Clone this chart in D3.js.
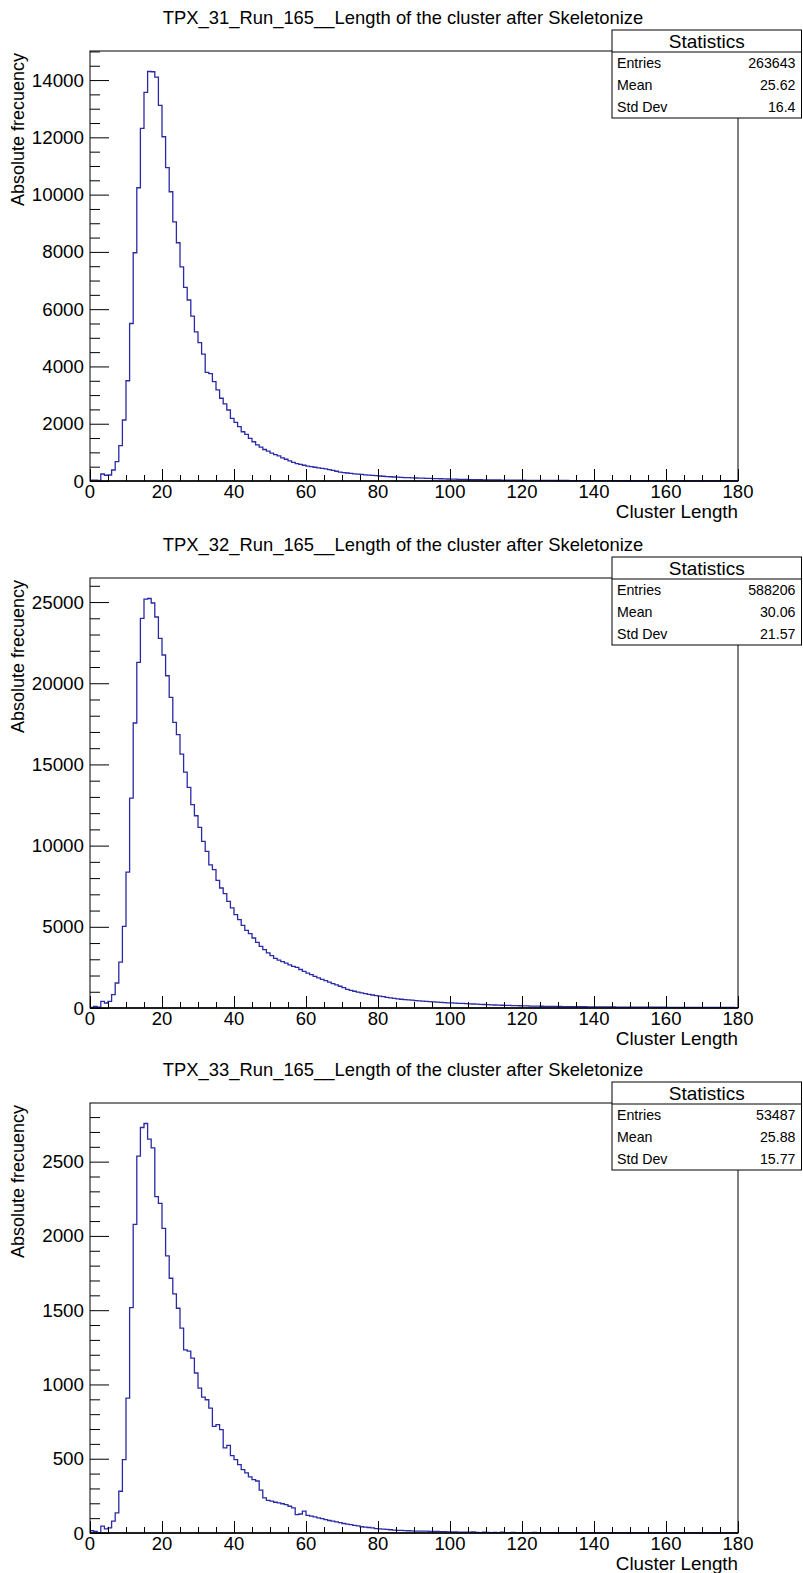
<!DOCTYPE html>
<html>
<head>
<meta charset="utf-8">
<script src="https://cdn.jsdelivr.net/npm/d3@7"></script>
<style>
  html, body { margin: 0; padding: 0; background: #fff; }
  svg { display: block; }
  text { font-family: "Liberation Sans", Arial, Helvetica, sans-serif; fill: #000; }
</style>
</head>
<body>
<script>
// ---------- DATA ----------
const titles = [
  "TPX_31_Run_165__Length of the cluster after Skeletonize",
  "TPX_32_Run_165__Length of the cluster after Skeletonize",
  "TPX_33_Run_165__Length of the cluster after Skeletonize"
];
const xLabel = "Cluster Length";
const yLabel = "Absolute frecuency";
const xTicks = [0, 20, 40, 60, 80, 100, 120, 140, 160, 180];
const yTicks31 = [0, 2000, 4000, 6000, 8000, 10000, 12000, 14000];
const yTicks32 = [0, 5000, 10000, 15000, 20000, 25000];
const yTicks33 = [0, 500, 1000, 1500, 2000, 2500];
const statLabels = ["Entries", "Mean", "Std Dev"];
const stats31 = ["263643", "25.62", "16.4"];
const stats32 = ["588206", "30.06", "21.57"];
const stats33 = ["53487", "25.88", "15.77"];

// bin contents, bins of width 1 from 0 to 180
const lengths31 = [
  30,30,20,245,200,210,384,675,1233,2130,
  3500,5500,7970,10240,12310,13570,14300,14290,14100,13115,
  12020,10940,10100,9050,8320,7480,6760,6320,5760,5210,
  4830,4430,3790,3750,3470,3180,2890,2690,2480,2190,
  2050,1900,1720,1630,1490,1370,1260,1180,1100,1040,
  970,920,880,810,760,700,650,610,580,550,
  520,500,480,460,440,420,400,370,340,310,
  290,280,265,250,240,230,215,205,195,185,
  175,165,155,148,140,133,125,120,115,110,
  105,100,97,94,90,86,82,78,74,70,
  66,63,60,57,54,51,49,46,44,42,
  40,38,36,35,33,32,30,29,28,27,
  26,25,24,23,22,21,21,20,19,18,
  18,17,17,16,15,15,14,14,13,13,
  12,12,12,11,11,10,10,10,9,9,
  9,8,8,8,8,7,7,7,7,6,
  6,6,6,6,5,5,5,5,5,5,
  4,4,4,4,4,4,4,3,3,3
];
const lengths32 = [
  30,100,60,406,308,406,818,1540,2830,5025,
  8370,12930,17550,21280,23990,25180,25220,24940,24080,22760,
  21740,20460,19130,17590,16830,15640,14530,13590,12520,11840,
  11120,10260,9640,8820,8520,7860,7390,7040,6570,6160,
  5750,5440,5090,4780,4580,4310,4040,3800,3600,3400,
  3220,3060,2950,2860,2760,2660,2560,2500,2370,2250,
  2150,2050,1950,1850,1760,1680,1590,1500,1420,1340,
  1250,1150,1080,1030,980,930,880,840,800,760,
  730,700,650,620,590,560,540,520,500,480,
  460,440,420,405,390,375,360,345,330,320,
  310,300,290,280,270,255,245,235,225,215,
  205,195,185,178,170,163,156,150,144,138,
  132,126,121,117,113,109,105,101,98,95,
  92,89,86,84,82,80,78,76,74,72,
  70,68,66,64,62,61,59,57,56,55,
  54,53,52,51,50,49,48,47,46,45,
  44,43,42,41,40,40,39,38,37,36,
  35,35,34,33,32,32,31,30,30,29
];
const lengths33 = [
  15,10,2,46,28,35,80,136,281,494,
  908,1517,2078,2537,2730,2757,2651,2593,2264,2219,
  2051,1865,1715,1610,1513,1379,1233,1225,1177,1077,
  976,915,897,841,718,729,696,573,590,521,
  494,460,427,405,378,360,350,288,236,220,
  215,207,203,197,191,180,169,124,128,147,
  118,113,108,102,97,90,84,80,75,70,
  64,60,56,52,48,42,40,37,34,30,
  28,26,24,22,19,18,17,16,15,14,
  13,13,12,12,11,10,10,9,9,8,
  8,7,6,6,5,5,7,4,3,5,
  4,3,4,2,5,3,2,4,3,2,
  3,2,2,4,1,3,2,2,3,1,
  2,2,1,3,2,1,2,1,1,2,
  1,2,1,1,0,2,1,1,1,0,
  1,1,0,1,1,0,1,0,1,0,
  0,1,0,0,1,0,0,1,0,0,
  0,0,1,0,0,0,0,1,0,0
];

// ---------- LAYOUT ----------
const W = 803, H = 1573;
const panels = [
  { title: titles[0], data: lengths31, yTicks: yTicks31, yMinor: 500, stats: stats31, top: 0 },
  { title: titles[1], data: lengths32, yTicks: yTicks32, yMinor: 1000, stats: stats32, top: 527 },
  { title: titles[2], data: lengths33, yTicks: yTicks33, yMinor: 100, stats: stats33, top: 1052 }
];
const frameL = 90, frameR = 738, frameT = 51, frameB = 481;
const lineColor = "#2a2aa6";

const svg = d3.select("body").append("svg")
  .attr("width", W).attr("height", H)
  .attr("viewBox", `0 0 ${W} ${H}`);
svg.append("rect").attr("width", W).attr("height", H).attr("fill", "#fff");

panels.forEach(p => {
  const g = svg.append("g").attr("transform", `translate(0,${p.top})`);
  const x = d3.scaleLinear().domain([0, 180]).range([frameL, frameR]);
  const yMax = d3.max(p.data) * 1.05;
  const y = d3.scaleLinear().domain([0, yMax]).range([frameB, frameT]);

  // title
  g.append("text").attr("x", 403).attr("y", 24)
    .attr("text-anchor", "middle").attr("font-size", 18.4)
    .text(p.title);

  // frame
  g.append("rect").attr("x", frameL).attr("y", frameT)
    .attr("width", frameR - frameL).attr("height", frameB - frameT)
    .attr("fill", "none").attr("stroke", "#000").attr("stroke-width", 1);

  // histogram step line
  const bins = p.data.map((v, i) => ({ x0: i, x1: i + 1, v }));
  let dstr = "";
  bins.forEach((b, i) => {
    const yy = y(b.v);
    if (i === 0) dstr += `M${x(b.x0)},${yy}`;
    else dstr += `V${yy}`;
    dstr += `H${x(b.x1)}`;
  });
  g.append("path").attr("d", dstr).attr("fill", "none")
    .attr("stroke", lineColor).attr("stroke-width", 1.3);

  // x axis (ticks inside, pointing up)
  const xMinor = d3.range(0, 181, 5).filter(v => v % 20 !== 0);
  const xAxisMajor = d3.axisTop(x).tickValues(xTicks).tickSize(12).tickFormat("");
  const xAxisMinor = d3.axisTop(x).tickValues(xMinor).tickSize(6).tickFormat("");
  [xAxisMajor, xAxisMinor].forEach(ax => {
    const a = g.append("g").attr("transform", `translate(0,${frameB})`).call(ax);
    a.select(".domain").remove();
    a.selectAll("line").attr("stroke", "#000");
  });
  g.append("line").attr("x1", frameL).attr("x2", frameR)
    .attr("y1", frameB).attr("y2", frameB).attr("stroke", "#000").attr("stroke-width", 1.5);
  g.selectAll(".xlab").data(xTicks).enter().append("text")
    .attr("x", d => x(d)).attr("y", frameB + 17)
    .attr("text-anchor", "middle").attr("font-size", 18.5)
    .text(d => d);
  g.append("text").attr("x", frameR).attr("y", frameB + 36.5)
    .attr("text-anchor", "end").attr("font-size", 18.8).text(xLabel);

  // y axis (ticks inside, pointing right)
  const step = p.yMinor;
  const yMinorVals = d3.range(0, yMax + 1e-6, step).filter(v => !p.yTicks.includes(v));
  const yAxisMajor = d3.axisRight(y).tickValues(p.yTicks).tickSize(19).tickFormat("");
  const yAxisMinor = d3.axisRight(y).tickValues(yMinorVals).tickSize(10).tickFormat("");
  [yAxisMajor, yAxisMinor].forEach(ax => {
    const a = g.append("g").attr("transform", `translate(${frameL},0)`).call(ax);
    a.select(".domain").remove();
    a.selectAll("line").attr("stroke", "#000");
  });
  g.selectAll(".ylab").data(p.yTicks).enter().append("text")
    .attr("x", frameL - 6).attr("y", d => y(d) + 6.5)
    .attr("text-anchor", "end").attr("font-size", 18.8)
    .text(d => d);
  g.append("text")
    .attr("transform", `translate(24,${frameT + 2}) rotate(-90)`)
    .attr("text-anchor", "end").attr("font-size", 18)
    .text(yLabel);

  // statistics box
  const bx = 612, by = 30, bw = 189.5, hh = 22, rh = 22;
  const sb = g.append("g");
  sb.append("rect").attr("x", bx).attr("y", by).attr("width", bw).attr("height", hh + rh * 3)
    .attr("fill", "#fff").attr("stroke", "#000").attr("stroke-width", 1);
  sb.append("line").attr("x1", bx).attr("x2", bx + bw)
    .attr("y1", by + hh).attr("y2", by + hh).attr("stroke", "#000");
  sb.append("text").attr("x", bx + bw / 2).attr("y", by + 18)
    .attr("text-anchor", "middle").attr("font-size", 19).text("Statistics");
  statLabels.forEach((lab, i) => {
    sb.append("text").attr("x", bx + 5).attr("y", by + hh + rh * i + 16)
      .attr("font-size", 14.2).text(lab);
    sb.append("text").attr("x", bx + bw - 6).attr("y", by + hh + rh * i + 16)
      .attr("text-anchor", "end").attr("font-size", 14.2).text(p.stats[i]);
  });
});
</script>
</body>
</html>
